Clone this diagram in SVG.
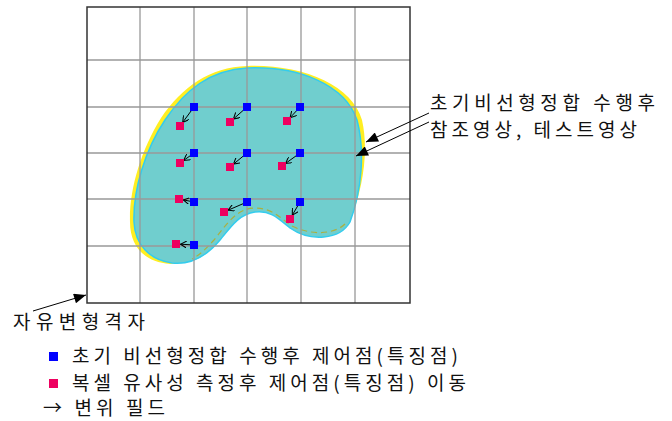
<svg xmlns="http://www.w3.org/2000/svg" width="672" height="421" viewBox="0 0 672 421">
<style>
.grid{stroke:#999;stroke-width:1.3;fill:none}
.frame{stroke:#333;stroke-width:1.5;fill:none}
.bp{fill:#0000ff}
.rp{fill:#ee0060}
.disp{stroke:#000;stroke-width:1;fill:none;marker-end:url(#vhead)}
.lead{stroke:#000;stroke-width:1;fill:none;marker-end:url(#fhead)}
.t{font-family:"Noto Sans CJK KR","Noto Sans",sans-serif;font-size:19px;fill:#111}
</style>
<defs>
<marker id="vhead" viewBox="0 0 8 8" refX="7" refY="4" markerWidth="7" markerHeight="7" markerUnits="userSpaceOnUse" orient="auto">
<path d="M0,0 L7,4 L0,8" stroke="#000" stroke-width="1.2" fill="none"/>
</marker>
<marker id="fhead" viewBox="0 0 12 10" refX="12" refY="5" markerWidth="13" markerHeight="10" markerUnits="userSpaceOnUse" orient="auto">
<path d="M0,0 L12,5 L0,10 Z" fill="#000"/>
</marker>
</defs>
<rect width="672" height="421" fill="#fff"/>
<g id="deformed-shapes">
<path id="yellow-shape" d="M247,66 C302,64 352,85 362,120 C369,150 363,190 350,220 C340,236 312,238 292,226 C280,218 272,208 255,208 C238,208 228,222 214,240 C198,258 185,264 170,264 C144,262 130,246 130,222 C129,190 141,150 161,118 C182,87 210,67 247,66 Z" fill="#ffee22"/>
<path id="cyan-shape" d="M247,68 C300,66 345,85 357,120 C365,150 362,190 350,222 C340,240 310,242 290,228 C278,218 270,210 255,212 C240,214 232,225 220,240 C205,258 190,265 172,263 C150,260 135,245 134,222 C133,190 145,150 165,120 C185,90 210,70 247,68 Z" fill="#70cece" stroke="#33ccee" stroke-width="1.5"/>
<path d="M345,224 C335,234 312,236 292,226 C280,218 272,208 255,208 C238,208 228,222 214,240 C205,250 198,256 192,259" fill="none" stroke="#aab040" stroke-width="1.2" stroke-dasharray="6,4"/>
</g>
<g id="grid">
<path class="grid" d="M140,7V303 M194,7V303 M247,7V303 M301,7V303 M355,7V303 M87,60H410 M87,107H410 M87,153H410 M87,199H410 M87,246H410"/>
<rect class="frame" x="87" y="7" width="323" height="296"/>
</g>
<g id="connectors">
<line class="disp" x1="194" y1="107" x2="182.7" y2="122.4"/>
<line class="disp" x1="247" y1="107" x2="233.4" y2="119"/>
<line class="disp" x1="300" y1="107" x2="290.1" y2="117.7"/>
<line class="disp" x1="194" y1="153" x2="183.7" y2="160.4"/>
<line class="disp" x1="247" y1="153" x2="233.5" y2="164.1"/>
<line class="disp" x1="300" y1="153" x2="285.6" y2="163.4"/>
<line class="disp" x1="194" y1="202" x2="183.4" y2="199.9"/>
<line class="disp" x1="247" y1="202" x2="228.1" y2="210.2"/>
<line class="disp" x1="300" y1="202" x2="292.3" y2="215.1"/>
<line class="disp" x1="194" y1="245" x2="180.5" y2="244.2"/>
<line class="lead" x1="429" y1="113" x2="366" y2="142"/>
<line class="lead" x1="429" y1="122" x2="356" y2="156"/>
<line class="lead" x1="33" y1="311" x2="86" y2="295"/>
</g>
<g id="moved-points">
<rect class="rp" x="176" y="122" width="8" height="8"/>
<rect class="rp" x="226" y="118" width="8" height="8"/>
<rect class="rp" x="283" y="117" width="8" height="8"/>
<rect class="rp" x="176" y="159" width="8" height="8"/>
<rect class="rp" x="226" y="163" width="8" height="8"/>
<rect class="rp" x="278" y="162" width="8" height="8"/>
<rect class="rp" x="175" y="195" width="8" height="8"/>
<rect class="rp" x="220" y="208" width="8" height="8"/>
<rect class="rp" x="286" y="215" width="8" height="8"/>
<rect class="rp" x="172" y="240" width="8" height="8"/>
</g>
<g id="control-points">
<rect class="bp" x="190" y="103" width="8" height="8"/>
<rect class="bp" x="243" y="103" width="8" height="8"/>
<rect class="bp" x="296" y="103" width="8" height="8"/>
<rect class="bp" x="190" y="149" width="8" height="8"/>
<rect class="bp" x="243" y="149" width="8" height="8"/>
<rect class="bp" x="296" y="149" width="8" height="8"/>
<rect class="bp" x="190" y="198" width="8" height="8"/>
<rect class="bp" x="243" y="198" width="8" height="8"/>
<rect class="bp" x="296" y="198" width="8" height="8"/>
<rect class="bp" x="190" y="241" width="8" height="8"/>
</g>
<g id="label-images">
<text class="t" x="430" y="110" textLength="225" lengthAdjust="spacing">초기비선형정합 수행후</text>
<text class="t" x="430" y="137" textLength="207" lengthAdjust="spacing">참조영상, 테스트영상</text>
</g>
<g id="label-ffd">
<text class="t" x="13" y="329" textLength="132" lengthAdjust="spacing">자유변형격자</text>
</g>
<g id="legend">
<rect class="bp" x="49" y="352" width="9" height="9"/>
<text class="t" x="72" y="363" textLength="386" lengthAdjust="spacing">초기 비선형정합 수행후 제어점(특징점)</text>
<rect class="rp" x="49" y="379" width="9" height="9"/>
<text class="t" x="72" y="390" textLength="394" lengthAdjust="spacing">복셀 유사성 측정후 제어점(특징점) 이동</text>
<text class="t" x="43" y="415" textLength="122" lengthAdjust="spacing">→ 변위 필드</text>
</g>
</svg>
